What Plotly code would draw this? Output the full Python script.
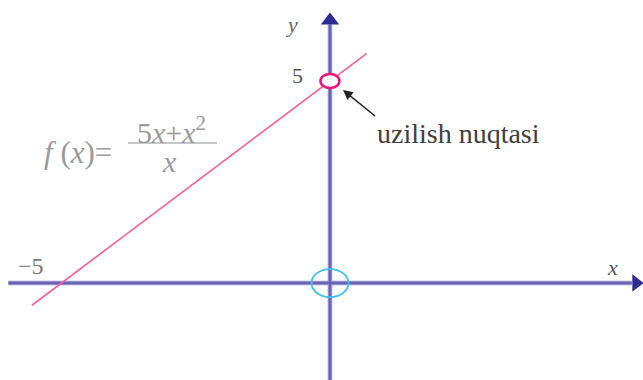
import plotly.graph_objects as go

W, H = 643, 380

# data
line_x = [-5.55, 0.68]           # y = x + 5 (hole at x = 0)
line_y = [x + 5 for x in line_x]
hole_pt = (0, 5)
origin_pt = (0, 0)
x_range = [-6.145, 5.829]
y_range = [-2.40, 7.005]
x_axis_span = [-5.99, 5.62]
y_axis_span = [-2.40, 6.40]

AX_COL = "#938ecb"
AX_CORE = "#5a54aa"
HEAD_COL = "#2f2b90"
PINK = "#f0609a"
SERIF = "'Liberation Serif', 'DejaVu Serif', serif"

fig = go.Figure()

# function line
fig.add_trace(go.Scatter(x=line_x, y=line_y, mode="lines",
                         line=dict(color=PINK, width=1.6), hoverinfo="skip"))

# axes arrowheads
fig.add_trace(go.Scatter(x=[x_axis_span[1] + 0.08], y=[0], mode="markers",
                         marker=dict(symbol="triangle-right", size=15, color=HEAD_COL,
                                     line=dict(width=0)), hoverinfo="skip"))
fig.add_trace(go.Scatter(x=[0], y=[y_axis_span[1] + 0.1], mode="markers",
                         marker=dict(symbol="triangle-up", size=16, color=HEAD_COL,
                                     line=dict(width=0)), hoverinfo="skip"))

shapes = []
for col, wd in ((AX_COL, 4.5), (AX_CORE, 1.4)):
    shapes.append(dict(type="line", xref="x", yref="y", x0=x_axis_span[0], x1=x_axis_span[1],
                       y0=0, y1=0, line=dict(color=col, width=wd), layer="below"))
    shapes.append(dict(type="line", xref="x", yref="y", x0=0, x1=0,
                       y0=y_axis_span[0], y1=y_axis_span[1], line=dict(color=col, width=wd),
                       layer="below"))
shapes += [
    # hole circle
    dict(type="circle", xref="x", yref="y", xsizemode="pixel", ysizemode="pixel",
         xanchor=hole_pt[0], yanchor=hole_pt[1], x0=-9.5, x1=9.5, y0=-7, y1=7,
         fillcolor="white", line=dict(color="#e8157a", width=2.5), layer="above"),
    # origin circle
    dict(type="circle", xref="x", yref="y", xsizemode="pixel", ysizemode="pixel",
         xanchor=origin_pt[0], yanchor=origin_pt[1], x0=-18.5, x1=18.5, y0=-14, y1=14,
         line=dict(color="#3fc0f0", width=1.8), layer="above"),
    # fraction bar
    dict(type="line", xref="paper", yref="paper", x0=128 / W, x1=217 / W,
         y0=1 - 143 / H, y1=1 - 143 / H, line=dict(color="#b5b5b5", width=1.3)),
]


def ann(text, px, py, size=20, color="#555", **kw):
    return dict(text=text, x=px / W, y=1 - py / H, xref="paper", yref="paper",
                showarrow=False, font=dict(family=SERIF, size=size, color=color),
                xanchor="center", yanchor="middle", **kw)


annotations = [
    ann("<i>y</i>", 292, 25, 22, "#666"),
    ann("5", 297, 76, 22, "#555"),
    ann("\u22125", 31, 266, 24, "#777"),
    ann("<i>x</i>", 612, 267, 22, "#555"),
    ann("<i>f</i> (<i>x</i>)=", 78, 152, 31, "#9a9a9a"),
    ann("5<i>x</i>+<i>x</i><sup>2</sup>", 171, 130, 30, "#9a9a9a"),
    ann("<i>x</i>", 170, 161, 30, "#9a9a9a"),
    dict(text="uzilish nuqtasi", x=343 / W, y=1 - 90 / H, xref="paper", yref="paper",
         ax=32, ay=26, xanchor="left", yanchor="top",
         showarrow=True, arrowhead=2, arrowsize=1.3, arrowwidth=1.5, arrowcolor="#222",
         font=dict(family=SERIF, size=28, color="#404040")),
]

fig.update_layout(
    width=W, height=H, margin=dict(l=0, r=0, t=0, b=0),
    paper_bgcolor="white", plot_bgcolor="white", showlegend=False,
    font=dict(family=SERIF),
    xaxis=dict(range=x_range, visible=False, fixedrange=True),
    yaxis=dict(range=y_range, visible=False, fixedrange=True),
    shapes=shapes, annotations=annotations,
)

fig.write_html("out.html", config={"displayModeBar": False},
               post_script="document.body.style.margin='0';")
